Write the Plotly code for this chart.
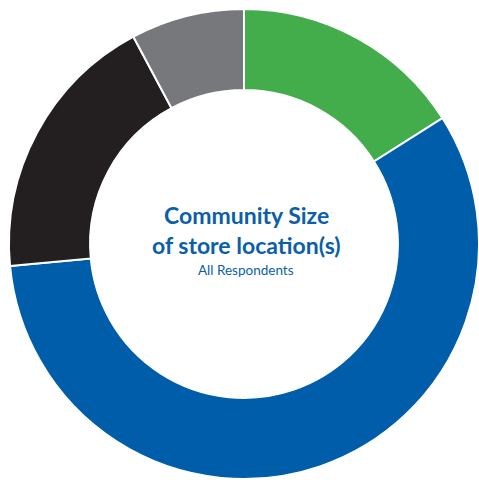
import plotly.graph_objects as go

# Share of respondents by community size of store location(s)
categories = ["Segment A", "Segment B", "Segment C", "Segment D"]
shares = [16.0, 57.5, 18.7, 7.8]
colors = ["#44AD4B", "#005DAA", "#231F20", "#77787B"]

title_lines = ["Community Size", "of store location(s)"]
subtitle = "All Respondents"

W, H = 479, 480
cx, cy, r = 244, 244, 235

fig = go.Figure(
    go.Pie(
        labels=categories,
        values=shares,
        hole=0.655,
        sort=False,
        direction="clockwise",
        rotation=0,
        marker=dict(colors=colors, line=dict(color="white", width=2)),
        textinfo="none",
        hoverinfo="label+percent",
        domain=dict(x=[(cx - r) / W, (cx + r) / W], y=[1 - (cy + r) / H, 1 - (cy - r) / H]),
    )
)

text_color = "#0B5FA8"
fig.add_annotation(
    x=246 / W, y=1 - 215 / H, xref="paper", yref="paper",
    text="<b>" + title_lines[0] + "</b>", showarrow=False,
    font=dict(family="Lato", size=23, color=text_color), xanchor="center", yanchor="middle",
)
fig.add_annotation(
    x=246 / W, y=1 - 245 / H, xref="paper", yref="paper",
    text="<b>" + title_lines[1] + "</b>", showarrow=False,
    font=dict(family="Lato", size=23, color=text_color), xanchor="center", yanchor="middle",
)
fig.add_annotation(
    x=246 / W, y=1 - 270 / H, xref="paper", yref="paper",
    text=subtitle, showarrow=False,
    font=dict(family="Lato", size=13.5, color=text_color), xanchor="center", yanchor="middle",
)

fig.update_layout(
    width=W, height=H,
    margin=dict(l=0, r=0, t=0, b=0),
    showlegend=False,
    paper_bgcolor="white",
    plot_bgcolor="white",
)

fig.write_html("out.html")
